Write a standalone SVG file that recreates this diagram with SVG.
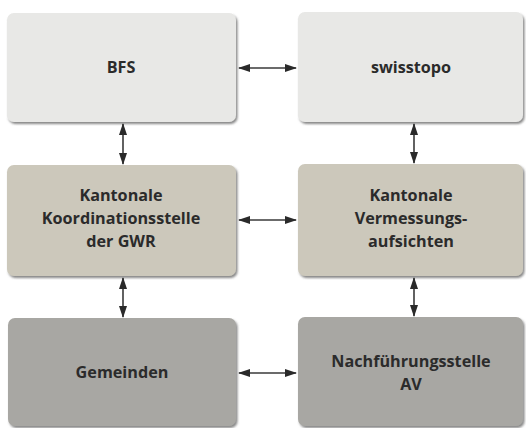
<svg xmlns="http://www.w3.org/2000/svg" width="526" height="428" viewBox="0 0 526 428">
<style>
.box{stroke:none;filter:url(#sh)}
.r1{fill:#e8e8e6}
.r2{fill:#ccc8bb}
.r3{fill:#a8a7a3}
.t{font-family:"Open Sans","Noto Sans",sans-serif;font-weight:bold;font-size:16.2px;fill:#2b2b2b;text-anchor:middle}
.c{stroke:#3a3a3a;stroke-width:1.6;fill:none;marker-start:url(#a);marker-end:url(#a)}
</style>
<defs>
<filter id="sh" x="-5%" y="-5%" width="115%" height="120%">
<feDropShadow dx="1.5" dy="2" stdDeviation="1.3" flood-color="#555" flood-opacity="0.7"/>
</filter>
<marker id="a" viewBox="0 0 12 8" refX="11" refY="4" markerWidth="12" markerHeight="8" markerUnits="userSpaceOnUse" orient="auto-start-reverse">
<path d="M0,0 L12,4 L0,8 z" fill="#2a2a2a"/>
</marker>
</defs>
<g id="bfs"><rect class="box r1" x="7" y="13" width="229" height="109" rx="7"/><text class="t" x="121" y="73">BFS</text></g>
<g id="swisstopo"><rect class="box r1" x="298" y="12" width="225" height="110" rx="7"/><text class="t" x="411" y="73">swisstopo</text></g>
<g id="kgwr"><rect class="box r2" x="7" y="165" width="229" height="111" rx="7"/><text class="t" x="121" y="201">Kantonale</text><text class="t" x="121" y="224">Koordinationsstelle</text><text class="t" x="121" y="247">der GWR</text></g>
<g id="kvermessung"><rect class="box r2" x="298" y="164" width="225" height="112" rx="7"/><text class="t" x="411" y="201">Kantonale</text><text class="t" x="411" y="224">Vermessungs-</text><text class="t" x="411" y="247">aufsichten</text></g>
<g id="gemeinden"><rect class="box r3" x="8" y="318" width="228" height="108" rx="7"/><text class="t" x="122" y="378">Gemeinden</text></g>
<g id="nachfuehrung"><rect class="box r3" x="298" y="317" width="225" height="109" rx="7"/><text class="t" x="411" y="367">Nachführungsstelle</text><text class="t" x="411" y="390">AV</text></g>
<g id="connectors">
<line class="c" x1="239" y1="68" x2="296" y2="68"/>
<line class="c" x1="239" y1="220" x2="296" y2="220"/>
<line class="c" x1="239" y1="373" x2="296" y2="373"/>
<line class="c" x1="123" y1="124" x2="123" y2="164"/>
<line class="c" x1="123" y1="278" x2="123" y2="317"/>
<line class="c" x1="414" y1="124" x2="414" y2="163"/>
<line class="c" x1="414" y1="278" x2="414" y2="316"/>
</g>
</svg>
